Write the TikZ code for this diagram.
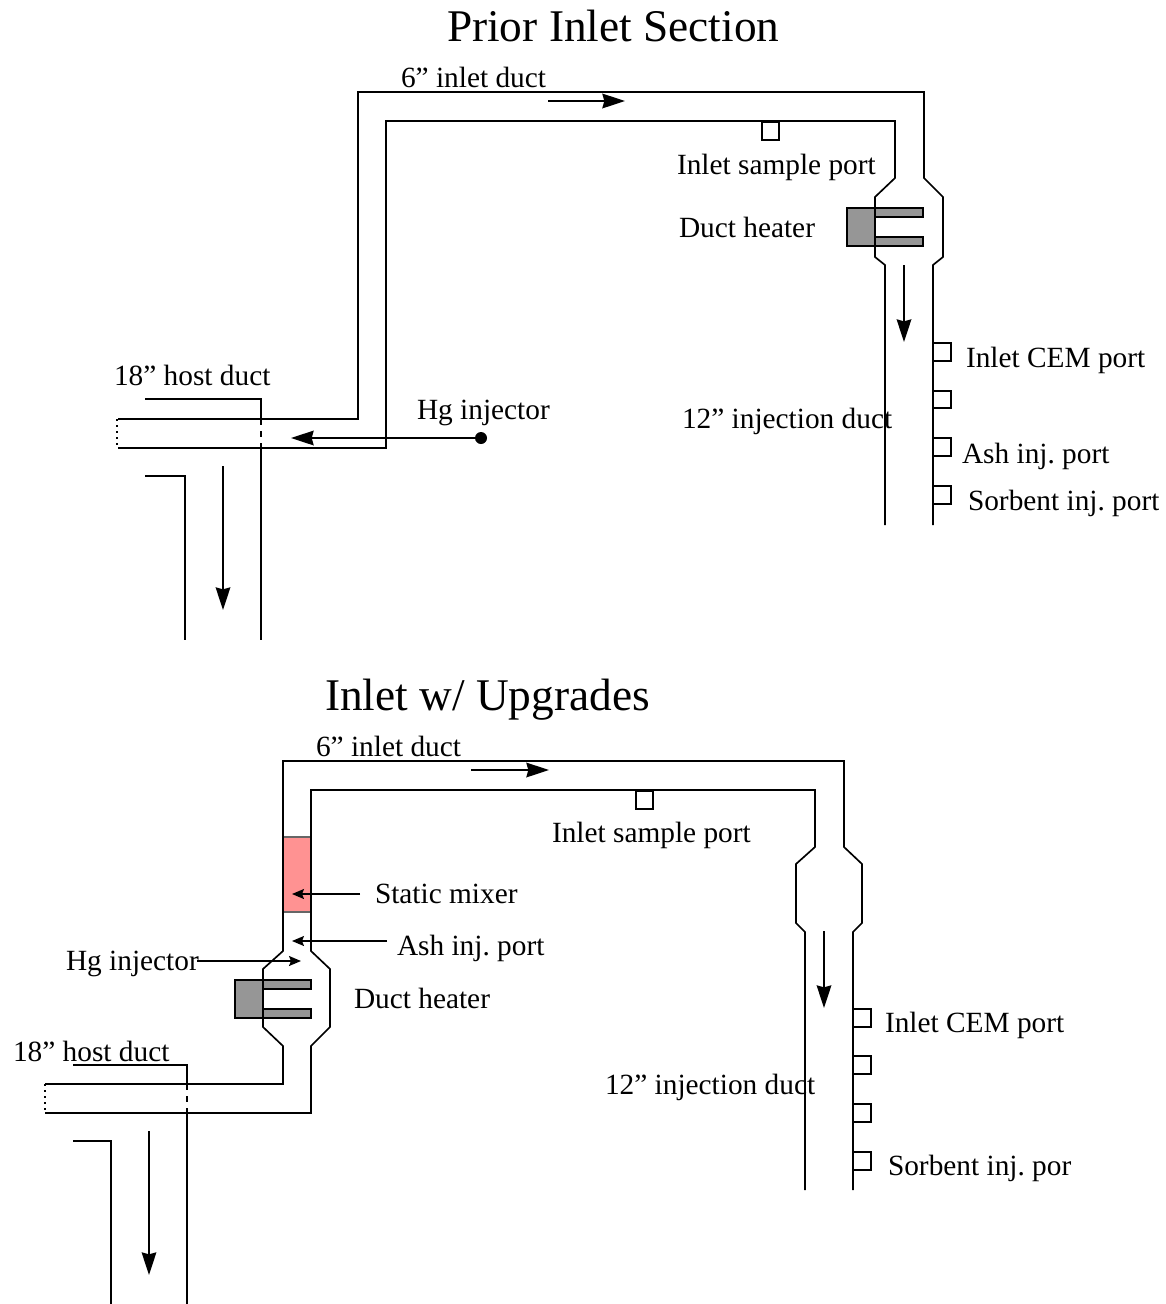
\documentclass[tikz,border=0pt]{standalone}
\usepackage{fontspec}
\setmainfont[Kerning=Off]{Liberation Serif}
\usetikzlibrary{arrows.meta}
\definecolor{heatergray}{RGB}{150,150,150}
\definecolor{mixerpink}{RGB}{255,146,146}
\tikzset{
  duct/.style={line width=1.25pt,line join=miter},
  hostdash/.style={line width=1.25pt,dash pattern=on 4.5pt off 4.5pt},
  hostdot/.style={line width=1.25pt,dash pattern=on 1.5pt off 3pt},
  flow/.style={line width=1.2pt,-{Stealth[length=17pt,width=11pt,inset=1.5pt]}},
  pointer/.style={line width=1.1pt,-{Stealth[length=9pt,width=7.5pt,inset=1.5pt]}},
  portbox/.style={line width=1.1pt},
  heater/.style={line width=1.1pt,fill=heatergray},
  mixer/.style={line width=1.1pt,fill=mixerpink,draw=black!60},
  lab/.style={anchor=base west,inner sep=0pt,outer sep=0pt,font=\fontsize{22}{24}\selectfont\frenchspacing},
  ttl/.style={anchor=base west,inner sep=0pt,outer sep=0pt,font=\fontsize{34}{36}\selectfont},
  dotend/.style={circle,fill=black,inner sep=0pt,minimum size=9pt}
}
\begin{document}
\begin{tikzpicture}[x=0.75pt,y=-0.75pt]
\useasboundingbox (0,0) rectangle (1165,1304);
\fill[white] (0,0) rectangle (1165,1304);
% --- Prior inlet section ---
\draw[heater] (847,208) rectangle (875,246);
\draw[heater] (875,208) rectangle (923,217);
\draw[heater] (875,237) rectangle (923,246);
\draw[duct] (118,419) -- (358,419) -- (358,92) -- (924,92) -- (924,178) -- (943,197) -- (943,257) -- (933,265) -- (933,525);
\draw[duct] (118,448) -- (386,448) -- (386,121) -- (895,121) -- (895,178) -- (875,197) -- (875,257) -- (885,265) -- (885,525);
\draw[hostdot] (117,419) -- (117,448);
\draw[duct] (145,399) -- (261,399) -- (261,419);
\draw[hostdash] (261,419) -- (261,448);
\draw[duct] (261,448) -- (261,640);
\draw[duct] (145,476) -- (185,476) -- (185,640);
\coordinate (a1s) at (548,101); \coordinate (a1e) at (625,101);
\draw[flow] (a1s) -- (a1e);
\coordinate (a2s) at (904,265); \coordinate (a2e) at (904,342);
\draw[flow] (a2s) -- (a2e);
\coordinate (a3s) at (223,466); \coordinate (a3e) at (223,610);
\draw[flow] (a3s) -- (a3e);
\draw[portbox] (762,122) rectangle (779,140);
\draw[portbox] (933,343) rectangle (951,361);
\draw[portbox] (933,391) rectangle (951,408);
\draw[portbox] (933,438) rectangle (951,456);
\draw[portbox] (933,486) rectangle (951,504);
\node[dotend] (hg1) at (481,438) {};
\coordinate (hg1e) at (291,438);
\draw[flow] (hg1) -- (hg1e);
\node[ttl] (t1) at (447,41) {Prior Inlet Section};
\node[lab] (l1) at (401,87) {6” inlet duct};
\node[lab] (l2) at (677,174) {Inlet sample port};
\node[lab] (l3) at (679,237) {Duct heater};
\node[lab] (l4) at (966,367) {Inlet CEM port};
\node[lab] (l5) at (682,428) {12” injection duct};
\node[lab] (l6) at (962,463) {Ash inj. port};
\begin{scope}
\clip (960,480) rectangle (1158,520);
\node[lab] (l7) at (968,510) {Sorbent inj. port};
\end{scope}
\node[lab] (l8) at (114,385) {18” host duct};
\node[lab] (l9) at (417,419) {Hg injector};
% --- Inlet with upgrades ---
\draw[mixer] (283,837) rectangle (311,912);
\draw[heater] (235,980) rectangle (263,1018);
\draw[heater] (263,980) rectangle (311,989);
\draw[heater] (263,1009) rectangle (311,1018);
\draw[duct] (45,1084) -- (283,1084) -- (283,1046) -- (263,1027) -- (263,969) -- (283,951) -- (283,761) -- (844,761) -- (844,847) -- (862,864) -- (862,923) -- (853,932) -- (853,1190);
\draw[duct] (45,1113) -- (311,1113) -- (311,1046) -- (330,1027) -- (330,969) -- (311,951) -- (311,790) -- (815,790) -- (815,847) -- (796,864) -- (796,923) -- (805,932) -- (805,1190);
\draw[hostdot] (45,1084) -- (45,1113);
\draw[duct] (73,1065) -- (187,1065) -- (187,1084);
\draw[hostdash] (187,1084) -- (187,1113);
\draw[duct] (187,1113) -- (187,1304);
\draw[duct] (73,1141) -- (111,1141) -- (111,1304);
\coordinate (b1s) at (471,770); \coordinate (b1e) at (549,770);
\draw[flow] (b1s) -- (b1e);
\coordinate (b2s) at (824,931); \coordinate (b2e) at (824,1008);
\draw[flow] (b2s) -- (b2e);
\coordinate (b3s) at (149,1131); \coordinate (b3e) at (149,1275);
\draw[flow] (b3s) -- (b3e);
\draw[portbox] (636,791) rectangle (653,809);
\draw[portbox] (853,1009) rectangle (871,1027);
\draw[portbox] (853,1056) rectangle (871,1074);
\draw[portbox] (853,1104) rectangle (871,1122);
\draw[portbox] (853,1152) rectangle (871,1170);
\coordinate (p1s) at (360,894); \coordinate (p1e) at (292,894);
\draw[pointer] (p1s) -- (p1e);
\coordinate (p2s) at (387,941); \coordinate (p2e) at (292,941);
\draw[pointer] (p2s) -- (p2e);
\coordinate (p3s) at (197,961); \coordinate (p3e) at (301,961);
\draw[pointer] (p3s) -- (p3e);
\node[ttl] (t2) at (325,710) {Inlet w/ Upgrades};
\node[lab] (m1) at (316,756) {6” inlet duct};
\node[lab] (m2) at (552,842) {Inlet sample port};
\node[lab] (m3) at (375,903) {Static mixer};
\node[lab] (m4) at (397,955) {Ash inj. port};
\node[lab] (m5) at (66,970) {Hg injector};
\node[lab] (m6) at (354,1008) {Duct heater};
\node[lab] (m7) at (13,1061) {18” host duct};
\node[lab] (m8) at (605,1094) {12” injection duct};
\node[lab] (m9) at (885,1032) {Inlet CEM port};
\node[lab] (m10) at (888,1175) {Sorbent inj. por};
\end{tikzpicture}
\end{document}
